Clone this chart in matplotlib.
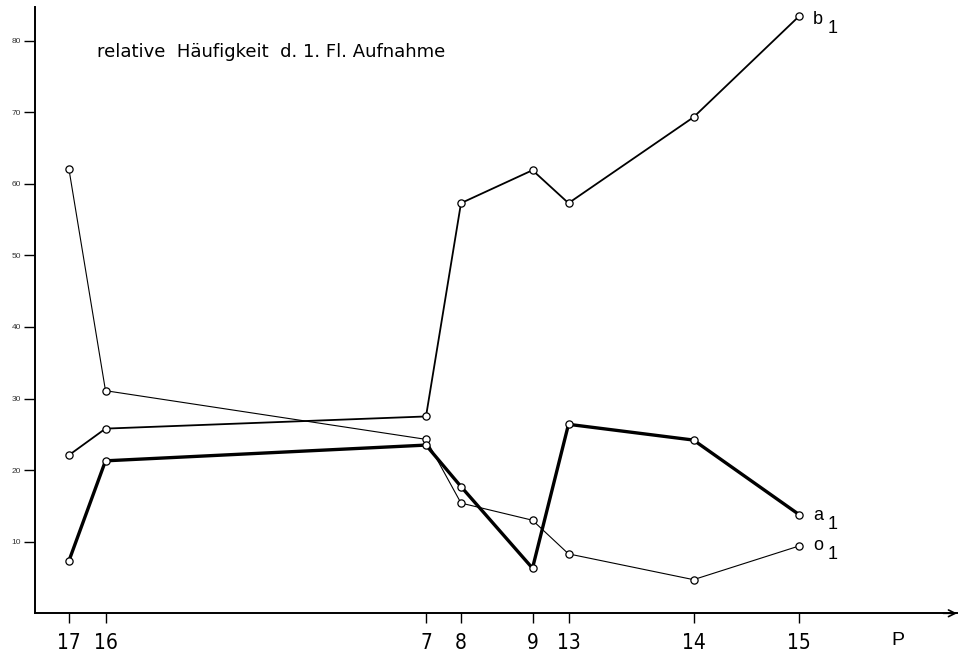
import matplotlib
matplotlib.use("Agg")
import matplotlib.pyplot as plt

# Profile stations (left to right) and their distance along the profile
stations = ["17", "16", "7", "8", "9", "13", "14", "15"]
station_dist = [34, 70.5, 391, 426, 497.5, 533.5, 658.5, 764]

# Relative frequency (%) per station
b1 = [22.1, 25.8, 27.5, 57.3, 61.9, 57.3, 69.3, 83.4]
a1 = [7.35, 21.3, 23.5, 17.7, 6.3, 26.4, 24.2, 13.8]
o1 = [62.0, 31.1, 24.3, 15.4, 13.0, 8.3, 4.7, 9.4]

y_ticks = [10, 20, 30, 40, 50, 60, 70, 80]
title = "relative  Häufigkeit  d. 1. Fl. Aufnahme"

W, H, DPI = 968, 653, 100
fig = plt.figure(figsize=(W / DPI, H / DPI), dpi=DPI)
ax = fig.add_axes([35 / W, (H - 613.3) / H, (957 - 35) / W, (613.3 - 7) / H])
ax.set_xlim(0, 922)
ax.set_ylim(0, 84.7)

for s in ("top", "right"):
    ax.spines[s].set_visible(False)
for s in ("left", "bottom"):
    ax.spines[s].set_linewidth(1.4)
    ax.spines[s].set_color("black")

# arrow head at the end of the profile axis
ax.annotate("", xy=(1.0, 0), xytext=(0.985, 0), xycoords="axes fraction",
            arrowprops=dict(arrowstyle="->", lw=1.2, color="black",
                            mutation_scale=12, shrinkA=0, shrinkB=0),
            annotation_clip=False)

series = [
    (o1, 0.8),
    (b1, 1.3),
    (a1, 2.4),
]
for vals, lw in series:
    ax.plot(station_dist, vals, color="black", lw=lw, zorder=2)
    ax.plot(station_dist, vals, ls="none", marker="o", ms=5.2,
            mfc="white", mec="black", mew=0.9, zorder=3)

# series labels with separate subscript
lab_font = ["Liberation Sans", "DejaVu Sans"]
for vals, letter, dy in [(b1, "b", -3), (a1, "a", -1), (o1, "o", 1)]:
    ax.annotate(letter, xy=(station_dist[-1], vals[-1]), xytext=(14, dy),
                textcoords="offset pixels", ha="left", va="center",
                fontsize=13, family=lab_font)
    ax.annotate("1", xy=(station_dist[-1], vals[-1]), xytext=(29, dy - 9),
                textcoords="offset pixels", ha="left", va="center",
                fontsize=13, family=lab_font)

ax.text(62 / 922, (613.3 - 52) / (613.3 - 7), title, transform=ax.transAxes,
        fontsize=13, family=["DejaVu Sans"], ha="left", va="center")

# axes ticks
ax.set_yticks(y_ticks)
ax.set_yticklabels([str(v) for v in y_ticks], fontsize=6, family=lab_font,
                   color="#333333")
ax.tick_params(axis="y", direction="out", length=8, width=1.0, pad=2)

ax.set_xticks(station_dist)
ax.set_xticklabels(stations, fontsize=15, family=["Liberation Sans Narrow", "DejaVu Sans"],
                   fontstretch="condensed")
ax.tick_params(axis="x", direction="out", length=7, width=1.0, pad=7)

ax.annotate("P", xy=(863, 0), xycoords=("data", "axes fraction"),
            xytext=(0, -27), textcoords="offset pixels", ha="center",
            va="center", fontsize=14, family=lab_font)

fig.savefig("out.png", dpi=DPI)
